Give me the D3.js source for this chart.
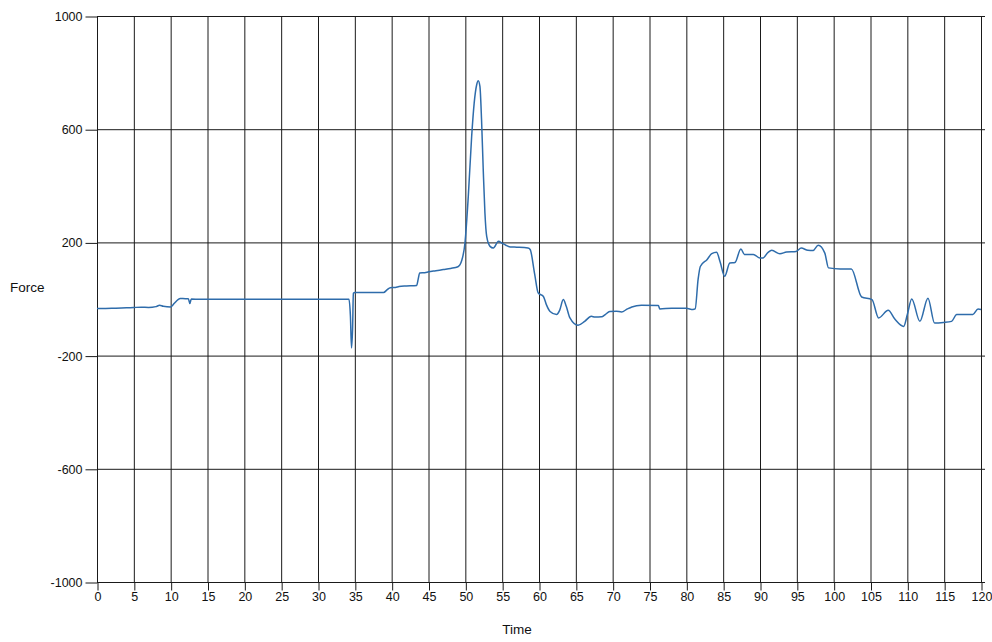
<!DOCTYPE html>
<html>
<head>
<meta charset="utf-8">
<script src="https://cdn.jsdelivr.net/npm/d3@7"></script>
<style>
  html, body { margin: 0; padding: 0; background: #fff; }
  svg text { font-family: "Liberation Sans", Arial, sans-serif; fill: #111; }
</style>
</head>
<body>
<svg id="chart" width="992" height="642"></svg>
<script>
// Force readings over time
const time = [0, 2, 4, 5, 6, 7, 8, 8.5, 9, 10, 10.5, 11, 11.3, 12, 12.4, 12.6, 12.8, 14, 20, 25, 30, 34.2,
  34.4, 34.55, 34.7, 34.8, 35, 38.9, 39.4, 39.8, 40.5, 41, 42, 43.4, 43.6, 43.8, 44.5, 45, 46, 47, 48, 49,
  49.5, 49.95, 50.4, 50.86, 51.2, 51.54, 51.75, 51.98, 52.2, 52.43, 52.66, 52.9, 53.35, 53.8, 54.5, 54.95,
  55.5, 56.1, 57, 58.5, 58.8, 59.4, 59.9, 60.6, 61, 61.5, 62.4, 62.8, 63.3, 63.7, 64.2, 65.3, 66.2, 67.1, 67.6,
  68.5, 69, 69.6, 70.5, 71.2, 72, 72.6, 73.9, 76.2, 76.4, 78, 80, 80.9, 81.2, 81.6, 81.9, 82.8, 83.45, 84.1,
  84.6, 85.2, 85.9, 86.6, 87.4, 87.9, 89.1, 90, 90.4, 91.1, 91.6, 92.7, 93.6, 94.9, 95.6, 96.5, 97.2, 97.9,
  98.8, 99.3, 100.9, 102.4, 103.8, 105.2, 106.1, 107.4, 108.3, 109.5, 110, 110.6, 111.7, 112.8, 113.7,
  114.9, 116, 116.7, 118.9, 119.6, 120];
const force = [-34, -33, -31, -30, -29, -30, -27, -22, -26, -28, -15, -2, 2, 1, 1, -16, 0, -1, -1, -1, -1, -1,
  -60, -173, -100, 20, 23, 23, 33, 40, 41, 44, 46, 48, 70, 92, 93, 96, 100, 104, 108, 114,
  135, 198, 362, 575, 692, 757, 771, 751, 634, 457, 304, 221, 186, 180, 204, 198,
  190, 184, 183, 180, 175, 90, 21, 9, -20, -44, -55, -40, -2, -26, -67, -93, -79, -61, -64,
  -63, -55, -44, -43, -46, -35, -28, -22, -23, -35, -33, -33, -37, -35, 70, 115, 139, 160, 165,
  130, 80, 127, 129, 177, 157, 157, 145, 145, 165, 172, 160, 166, 168, 180, 172, 171, 190,
  162, 110, 106, 106, 7, -2, -67, -40, -71, -97, -55, 0, -79, 3, -85,
  -83, -79, -55, -55, -35, -37];

const xTicks = d3.range(0, 121, 5);
const yTicks = [-1000, -600, -200, 200, 600, 1000];

const svg = d3.select("#chart");
const plotLeft = 97, plotRight = 981, plotTop = 16, plotBottom = 582;

const x = d3.scaleLinear().domain([0, 120]).range([plotLeft, plotRight]);
const y = d3.scaleLinear().domain([-1000, 1000]).range([plotBottom, plotTop]);

// vertical grid
svg.append("g")
  .selectAll("line")
  .data(xTicks)
  .join("line")
  .attr("x1", d => x(d) + 0.5).attr("x2", d => x(d) + 0.5)
  .attr("y1", plotTop).attr("y2", plotBottom)
  .attr("stroke", "#1a1a1a").attr("stroke-width", 1);

// horizontal grid
svg.append("g")
  .selectAll("line")
  .data(yTicks)
  .join("line")
  .attr("x1", plotLeft).attr("x2", plotRight + 4)
  .attr("y1", d => y(d) + 0.5).attr("y2", d => y(d) + 0.5)
  .attr("stroke", "#1a1a1a").attr("stroke-width", 1);

// plain integer labels with an ASCII hyphen for negatives
const plain = d => String(d);

// x axis
const xAxis = svg.append("g")
  .attr("transform", `translate(0.5,${plotBottom + 0.5})`)
  .call(d3.axisBottom(x).tickValues(xTicks).tickFormat(plain).tickSize(8).tickPadding(2).tickSizeOuter(0));
xAxis.select(".domain").remove();
xAxis.selectAll("line").attr("stroke", "#1a1a1a");
xAxis.selectAll("text").attr("font-size", "12.5px").attr("fill", "#111");

// y axis
const yAxis = svg.append("g")
  .attr("transform", `translate(${plotLeft + 0.5},0.5)`)
  .call(d3.axisLeft(y).tickValues(yTicks).tickFormat(plain).tickSize(12).tickPadding(3).tickSizeOuter(0));
yAxis.select(".domain").remove();
yAxis.selectAll("line").attr("stroke", "#1a1a1a");
yAxis.selectAll("text").attr("font-size", "12.5px").attr("fill", "#111");

// data line
const line = d3.line()
  .x((d, i) => x(time[i]))
  .y(d => y(d))
  .curve(d3.curveMonotoneX);

svg.append("path")
  .datum(force)
  .attr("d", line)
  .attr("fill", "none")
  .attr("stroke", "#2e6cab")
  .attr("stroke-width", 1.5)
  .attr("stroke-linejoin", "round");

// axis titles
svg.append("text")
  .attr("x", 10).attr("y", 292)
  .attr("font-size", "13.5px")
  .text("Force");

svg.append("text")
  .attr("x", 517).attr("y", 634)
  .attr("text-anchor", "middle")
  .attr("font-size", "13.5px")
  .text("Time");
</script>
</body>
</html>
